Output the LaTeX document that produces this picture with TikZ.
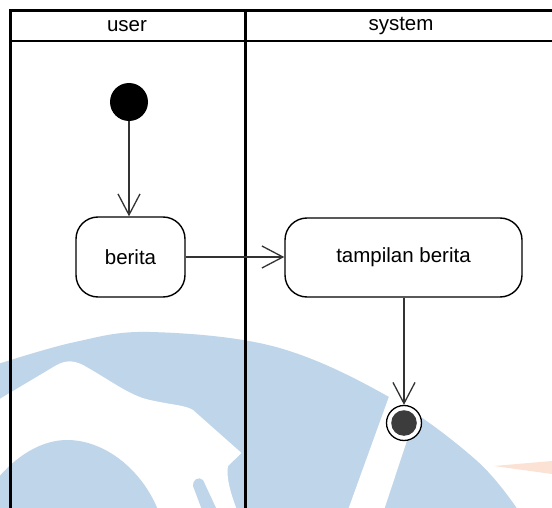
\documentclass[tikz,border=0pt]{standalone}
\usepackage{fontspec}
\setmainfont{Liberation Sans}
\usetikzlibrary{arrows.meta}

\definecolor{wmblue}{HTML}{BFD5EA}
\definecolor{wmorange}{HTML}{FBE2D4}
\definecolor{flowgray}{HTML}{333333}
\definecolor{enddark}{HTML}{3C3C3C}

\tikzset{
  lane/.style={line width=2.8pt, black},
  lanelabel/.style={font=\fontsize{20.5pt}{24pt}\selectfont, inner sep=0pt},
  act/.style={draw=black, line width=1.4pt, rounded corners=22pt, fill=white,
              font=\fontsize{20.5pt}{24pt}\selectfont, inner sep=0pt},
  startnode/.style={circle, fill=black, minimum size=38pt, inner sep=0pt},
  endnode/.style={circle, draw=black, line width=1.3pt, fill=white,
                  minimum size=35pt, inner sep=0pt,
                  path picture={\fill[enddark] (path picture bounding box.center) circle (12.8pt);}},
  flow/.style={draw=flowgray, line width=1.3pt,
               -{Straight Barb[length=21pt, width=22pt, line width=1.3pt]}}
}

\begin{document}
\begin{tikzpicture}[x=1pt, y=-1pt]
  \useasboundingbox (0,0) rectangle (552,508);
  \fill[white] (0,0) rectangle (552,508);

  % background emblem
  \fill[wmblue] plot[smooth, tension=0.6] coordinates
      {(-2,364) (75,342) (150,332) (276,347) (389,397) (476,460) (518,510)}
      -- (-2,510) -- cycle;
  % white band on the right
  \fill[white] (395,380) -- (427,380) -- (384,510) -- (348,510) -- cycle;
  % white figure on the left
  \fill[white] (-2,400) -- (55,366) .. controls (65,360) and (73,360) .. (83,365)
      .. controls (110,380) and (130,396) .. (150,400)
      .. controls (172,405) and (185,405) .. (193,410)
      -- (241.5,453) -- (228,466) .. controls (226,476) and (230,492) .. (237,510)
      -- (-2,510) -- cycle;
  % blue dome and tab inside the figure
  \fill[wmblue] (-2,478) .. controls (20,452) and (45,440) .. (67,440)
      .. controls (105,440) and (142,470) .. (158,510) -- (-2,510) -- cycle;
  \fill[wmblue] (193,486) .. controls (192,480) and (199,476) .. (203,480)
      -- (217,510) -- (202,510) -- cycle;
  % faint orange wedge
  \fill[wmorange] (494,466) -- (552,461) -- (552,474) -- cycle;

  % swimlane frame
  \draw[lane] (10.5,560) -- (10.5,10.5) -- (600,10.5);
  \draw[lane] (10.5,41) -- (600,41);
  \draw[lane] (245.5,10.5) -- (245.5,560);
  \node[lanelabel] (huser) at (127,26) {user};
  \node[lanelabel] (hsys) at (401,26) {system};

  % activity nodes
  \node[startnode] (start) at (129,102) {};
  \node[act, minimum width=109pt, minimum height=80pt] (berita) at (130.5,257) {berita};
  \node[act, minimum width=237pt, minimum height=79pt] (tampil) at (403.5,257.5) {tampilan berita};
  \node[endnode] (end) at (404,423) {};

  % control flow
  \draw[flow] (start.south) -- (start.south |- berita.north);
  \draw[flow] (berita.east) -- (berita.east -| tampil.west);
  \draw[flow] (tampil.south -| end.north) -- (end.north);
\end{tikzpicture}
\end{document}
